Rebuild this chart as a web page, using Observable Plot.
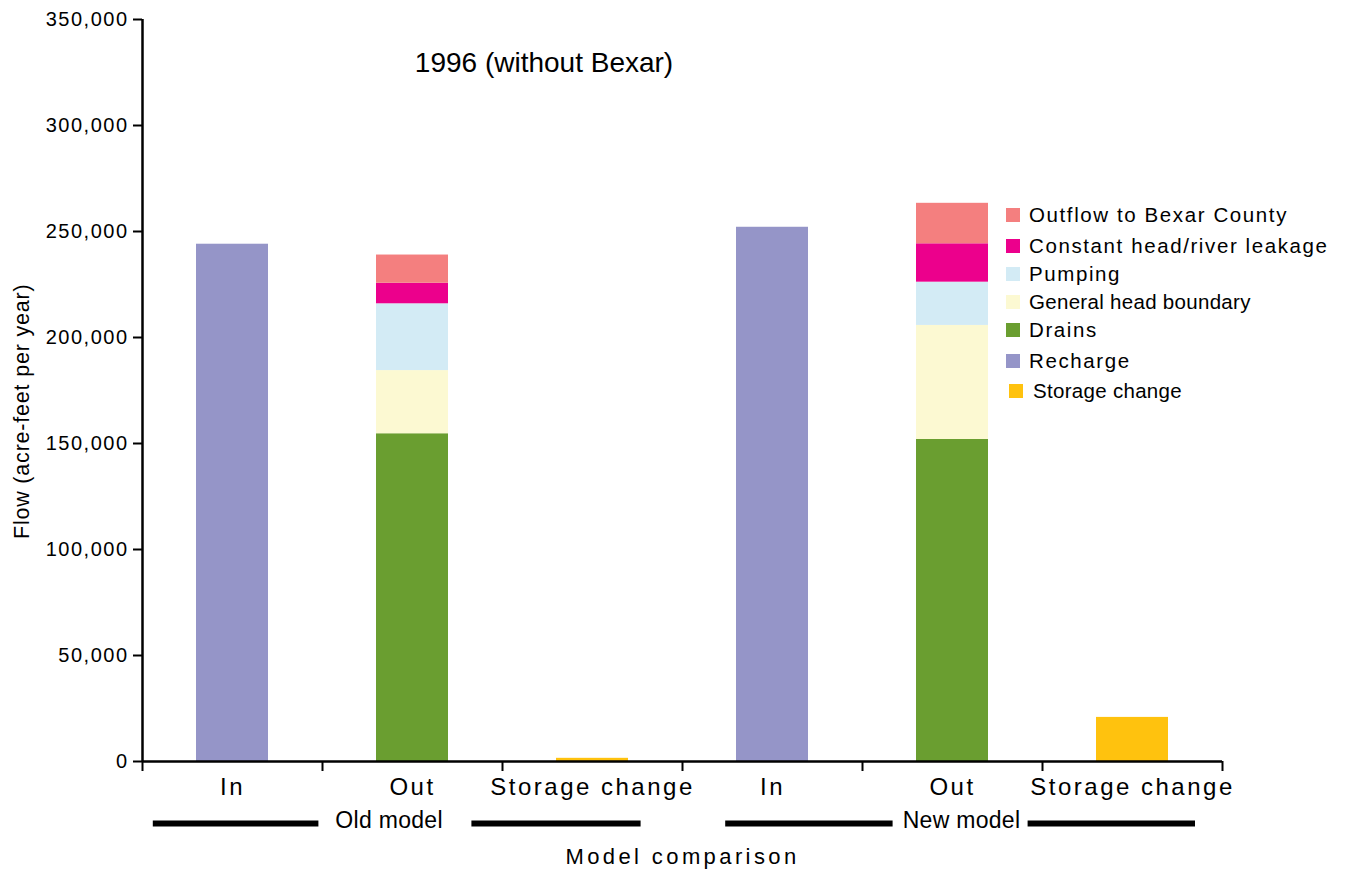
<!DOCTYPE html>
<html>
<head>
<meta charset="utf-8">
<script src="https://cdn.jsdelivr.net/npm/d3@7"></script>
<script src="https://cdn.jsdelivr.net/npm/@observablehq/plot@0.6"></script>
<style>
  html, body { margin: 0; padding: 0; background: #fff; }
  #wrap { position: relative; width: 1353px; height: 873px; font-family: "Liberation Sans", Arial, sans-serif; color: #000; }
  #chart { position: absolute; left: 0; top: 0; }
  #title { position: absolute; left: 544px; top: 63px; transform: translate(-50%, -50%); font-size: 28px; white-space: nowrap; }
  #ylabel { position: absolute; left: 22px; top: 539px; transform-origin: 0 0; transform: rotate(-90deg) translate(0, -50%); font-size: 21.5px; letter-spacing: 0.8px; white-space: nowrap; }
  #legend { position: absolute; left: 1006px; top: 200px; }
  .li { position: absolute; left: 0; height: 30px; display: flex; align-items: center; white-space: nowrap; font-size: 20.5px; letter-spacing: 1.6px; }
  .li .sw { width: 14px; height: 14px; margin-right: 9px; flex: none; }
  .li.plain { letter-spacing: 0.3px; font-size: 20.5px; }
</style>
</head>
<body>
<div id="wrap">
  <div id="chart"></div>
  <div id="title">1996 (without Bexar)</div>
  <div id="ylabel">Flow (acre-feet per year)</div>
  <div id="legend"></div>
</div>
<script>
// ---- data ----
const bars = ["In", "Out", "Storage change"];
const models = ["Old model", "New model"];
const components = ["Recharge", "Drains", "General head boundary", "Pumping", "Constant head/river leakage", "Outflow to Bexar County", "Storage change"];
const colors = ["#9595C8", "#6A9E30", "#FCF9D2", "#D3EBF5", "#EC008C", "#F47F7F", "#FFC20E"];
const legendOrder = ["Outflow to Bexar County", "Constant head/river leakage", "Pumping", "General head boundary", "Drains", "Recharge", "Storage change"];
const recharge = [244000, 252000];
const drains = [154600, 151900];
const generalHead = [29800, 53800];
const pumping = [31500, 20400];
const constantHead = [9700, 18100];
const outflowBexar = [13300, 19100];
const storageChange = [1500, 20800];
const yTicks = [0, 50000, 100000, 150000, 200000, 250000, 300000, 350000];
const xAxisTitle = "Model comparison";

// ---- build stacked rows ----
const rows = [];
const labels = [];
models.forEach((m, mi) => {
  const stacks = [
    [["Recharge", recharge[mi]]],
    [["Drains", drains[mi]], ["General head boundary", generalHead[mi]], ["Pumping", pumping[mi]],
     ["Constant head/river leakage", constantHead[mi]], ["Outflow to Bexar County", outflowBexar[mi]]],
    [["Storage change", storageChange[mi]]]
  ];
  stacks.forEach((segs, bi) => {
    const pos = mi * bars.length + bi;
    labels.push({pos, text: bars[bi]});
    let acc = 0;
    segs.forEach(([comp, v]) => {
      rows.push({pos, model: m, bar: bars[bi], comp, y1: acc, y2: acc + v});
      acc += v;
    });
  });
});

// group annotation layout (label centre and bracket lines, in slot units relative to group start)
const groupLayout = [
  {label: 1.37, lines: [[0.06, 0.98], [1.83, 2.77]]},
  {label: 1.55, lines: [[0.24, 1.17], [1.92, 2.85]]}
];
const groupLabels = models.map((m, mi) => ({text: m, x: mi * 3 + groupLayout[mi].label}));
const groupLines = models.flatMap((m, mi) => groupLayout[mi].lines.map(([a, b]) => ({x1: mi * 3 + a, x2: mi * 3 + b})));

const nSlots = models.length * bars.length;

const chart = Plot.plot({
  width: 1353,
  height: 873,
  marginLeft: 142,
  marginRight: 131,
  marginTop: 19,
  marginBottom: 112,
  style: {fontFamily: '"Liberation Sans", Arial, sans-serif', fontSize: "19px", color: "#000", background: "#fff", overflow: "visible"},
  x: {domain: [0, nSlots], axis: null},
  y: {domain: [0, 350000], axis: null},
  color: {domain: components, range: colors},
  marks: [
    Plot.rect(rows, {x1: d => d.pos + 0.3, x2: d => d.pos + 0.7, y1: "y1", y2: "y2", fill: "comp"}),
    Plot.axisY({ticks: yTicks, tickSize: 9, tickPadding: 5, tickFormat: d3.format(","), fontSize: 20, strokeWidth: 2, label: null}),
    Plot.axisX({ticks: d3.range(nSlots + 1), tickSize: 10, tickFormat: () => "", strokeWidth: 2, label: null}),
    Plot.ruleX([0], {stroke: "#000", strokeWidth: 2.5}),
    Plot.ruleY([0], {stroke: "#000", strokeWidth: 2.5}),
    Plot.text(labels, {x: d => d.pos + 0.5, text: "text", frameAnchor: "bottom", dy: 33, fontSize: 24, fill: "#000"}),
    Plot.text(groupLabels, {x: "x", text: "text", frameAnchor: "bottom", dy: 66, fontSize: 23, fill: "#000"}),
    Plot.ruleY(groupLines, {y: () => 0, x1: "x1", x2: "x2", dy: 62, stroke: "#000", strokeWidth: 6}),
    Plot.text([xAxisTitle], {x: nSlots / 2, text: d => d, frameAnchor: "bottom", dy: 102, fontSize: 22, fill: "#000"})
  ]
});
document.getElementById("chart").appendChild(chart);

// letter spacing for the text layers (in mark order: bar labels, model labels, axis title)
const spacing = ["2.5px", "0.3px", "3.4px"];
d3.select(chart).selectAll('g[aria-label="text"]').each(function (_, i) {
  d3.select(this).selectAll("text").style("letter-spacing", spacing[i] || null);
});
d3.select(chart).selectAll('g[aria-label="y-axis tick label"] text').style("letter-spacing", "1.5px");

// legend
const legend = document.getElementById("legend");
const rowY = [15, 46, 74, 102, 130, 161, 191];
legendOrder.forEach((name, i) => {
  const div = document.createElement("div");
  div.className = "li" + ((name === "General head boundary" || name === "Storage change") ? " plain" : "");
  div.style.top = (rowY[i] - 15) + "px";
  const sw = document.createElement("span");
  sw.className = "sw";
  sw.style.background = colors[components.indexOf(name)];
  if (name === "Storage change") { sw.style.marginLeft = "3px"; sw.style.marginRight = "10px"; }
  const t = document.createElement("span");
  t.textContent = name;
  div.appendChild(sw); div.appendChild(t);
  legend.appendChild(div);
});
</script>
</body>
</html>
